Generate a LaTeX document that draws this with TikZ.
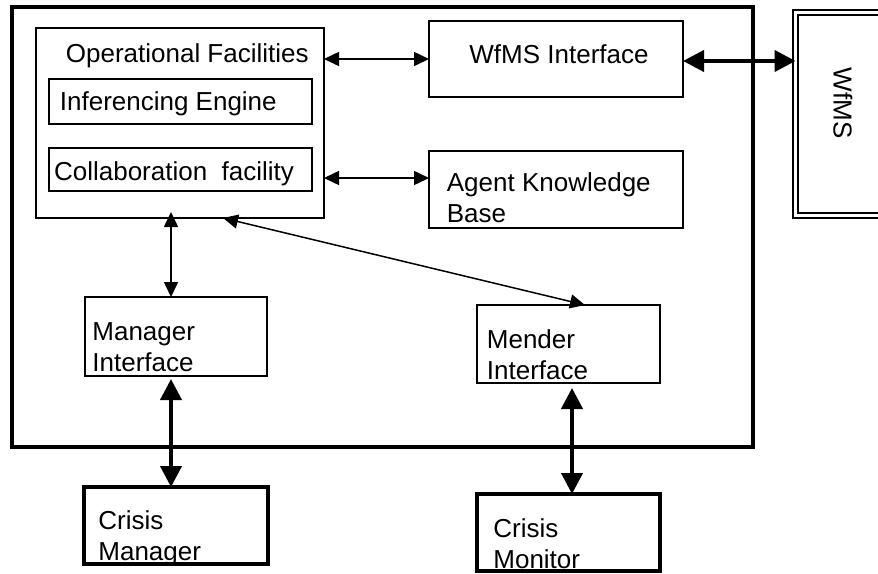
\documentclass[tikz,border=0pt]{standalone}
\usepackage{fontspec}
\setmainfont{Liberation Sans}
\usetikzlibrary{arrows.meta}

\begin{document}
\begin{tikzpicture}[line cap=round,x=0.5pt,y=-0.5pt,
	box/.style={draw,line width=0.6pt,inner sep=0,outer sep=0},
	thickbox/.style={draw,line width=1.75pt,inner sep=0,outer sep=0},
	txt/.style={inner sep=0,anchor=base west,align=left,font=\fontsize{13pt}{15.5pt}\selectfont},
	arr/.style={line width=0.75pt,arrows={Triangle[length=7.5pt,width=7pt]-Triangle[length=7.5pt,width=7pt]}},
	tarr/.style={line width=2pt,arrows={Triangle[length=10.5pt,width=10.5pt]-Triangle[length=10.5pt,width=10.5pt]}}]
		\clip (0,0) rectangle (878,573);
		% agent and its parts
		\node[thickbox,minimum width=370.5pt,minimum height=220pt] (agent) at (382.5,227) {};
		\node[box,minimum width=144pt,minimum height=95pt] (opfac) at (180,123) {};
		\node[box,minimum width=131.5pt,minimum height=22.5pt] (infer) at (180.5,101.5) {};
		\node[box,minimum width=131.5pt,minimum height=21.5pt] (collab) at (180.5,169.5) {};
		\node[box,minimum width=127pt,minimum height=38pt] (wfmsif) at (556,59) {};
		\node[box,minimum width=127pt,minimum height=38.5pt] (akb) at (556,189.5) {};
		\node[box,minimum width=91pt,minimum height=39.5pt] (mgrif) at (176,336.5) {};
		\node[box,minimum width=91.5pt,minimum height=39pt] (menif) at (568.5,344) {};
		% outside
		\node[draw,double,line width=0.6pt,double distance=1.9pt,inner sep=0,outer sep=0,minimum width=82.25pt,minimum height=101.5pt] (wfms) at (877.75,114) {};
		\node[thickbox,minimum width=92pt,minimum height=38.5pt] (crismgr) at (176,525.5) {};
		\node[thickbox,minimum width=91.5pt,minimum height=38.5pt] (crismon) at (568.5,532.5) {};
		% texts (two-line ones sit on their last line)
		\node[txt] (opfactxt) at (65.5,62.5) {Operational Facilities};
		\node[txt] (infertxt) at (59.5,110) {Inferencing Engine};
		\node[txt] (collabtxt) at (53.7,180) {Collaboration\ \ facility};
		\node[txt,anchor=base] (wfmsiftxt) at (559,63) {WfMS Interface};
		\node[txt] (akbtxt) at (446.5,222.5) {Agent Knowledge\\Base};
		\node[txt] (mgriftxt) at (92,371) {Manager\\Interface};
		\node[txt] (meniftxt) at (486.5,379.5) {Mender\\Interface};
		\node[txt] (crismgrtxt) at (98,560) {Crisis\\Manager};
		\node[txt] (crismontxt) at (493,568) {Crisis\\Monitor};
		\node[txt,anchor=center,rotate=-90] (wfmstxt) at (843,103) {WfMS};
		% links
		\draw[arr] (wfmsif.west -| opfac.east) -- (wfmsif.west);
		\draw[arr] ([yshift=5.75pt]akb.west -| opfac.east) -- ([yshift=5.75pt]akb.west);
		\draw[arr] ([xshift=-4.5pt,yshift=3pt]opfac.south) -- ([xshift=-2.5pt]mgrif.north);
		\draw[arr] ([xshift=21.5pt]opfac.south) -- ([xshift=8.25pt]menif.north);
		\draw[tarr] ([yshift=-1pt]wfmsif.east) -- ([yshift=-1pt]wfmsif.east -| wfms.west);
		\draw[tarr] ([xshift=-2.5pt,yshift=-1.5pt]mgrif.south) -- ([xshift=-2.5pt]crismgr.north);
		\draw[tarr] ([xshift=1.75pt,yshift=-2.5pt]menif.south) -- ([xshift=1.75pt]crismon.north);
\end{tikzpicture}
\end{document}
